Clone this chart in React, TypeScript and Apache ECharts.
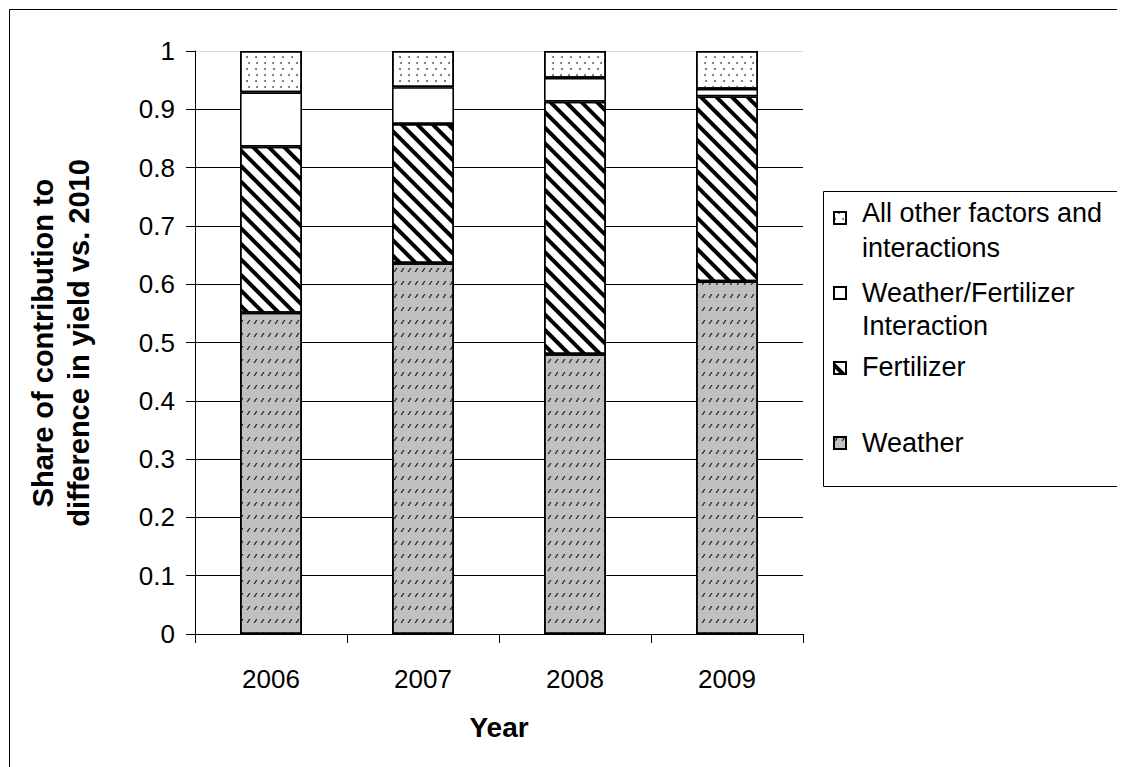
import React, { useEffect, useRef } from 'react';
import * as echarts from 'echarts';

const years = ['2006', '2007', '2008', '2009'];
const weather = [0.551, 0.636, 0.48, 0.605];
const fertilizer = [0.285, 0.239, 0.433, 0.317];
const interaction = [0.093, 0.063, 0.041, 0.013];
const otherFactors = [0.071, 0.062, 0.046, 0.065];

const seriesNames = ['Weather', 'Fertilizer', 'Weather/Fertilizer Interaction', 'All other factors and interactions'];
const legendLines = [
  ['All other factors and', 'interactions'],
  ['Weather/Fertilizer', 'Interaction'],
  ['Fertilizer'],
  ['Weather'],
];
const legendOrder = [3, 2, 1, 0];
const yAxisTitle = ['Share of contribution to', 'difference in yield vs. 2010'];
const xAxisTitle = 'Year';

const FONT = '"Liberation Sans", Arial, Helvetica, sans-serif';

export default function App() {
  const ref = useRef<HTMLDivElement>(null);
  useEffect(() => {
    document.body.style.overflow = 'hidden';
    document.documentElement.style.overflow = 'hidden';
    const chart = echarts.init(ref.current!, null, { renderer: 'svg' });

    const gridColors = ['#000', '#000', '#000', '#000', '#000', '#000', '#000', '#000', '#000', '#000', '#d8d8d8'];

    const decals: any[] = [
      {
        symbol: 'path://M0,10 L3.5,10 L10,0 L6.5,0 Z',
        symbolSize: 1,
        color: '#222',
        dashArrayX: [5, 2],
        dashArrayY: [4, 9],
        rotation: 0,
      },
      {
        symbol: 'rect',
        symbolSize: 1,
        color: '#000',
        dashArrayX: [[1, 0]],
        dashArrayY: [4, 6.5],
        rotation: Math.PI / 4,
      },
      null,
      {
        symbol: 'circle',
        symbolSize: 1,
        color: '#666',
        dashArrayX: [[1.8, 6], [0, 3.9, 1.8, 2.1]],
        dashArrayY: [1.8, 3.8],
        rotation: 0,
      },
    ];
    const fills = ['#c0c0c0', '#ffffff', '#ffffff', '#ffffff'];
    const values = [weather, fertilizer, interaction, otherFactors];

    const series = seriesNames.map((name, i) => {
      const itemStyle: any = { color: fills[i], borderColor: '#000', borderWidth: 1.6 };
      if (decals[i]) itemStyle.decal = decals[i];
      return {
        name,
        type: 'bar',
        stack: 'total',
        barWidth: 62,
        data: values[i],
        itemStyle,
        emphasis: { disabled: true },
      };
    });

    const iconTops = [203, 278, 353, 428];
    const legends = legendOrder.map((si, k) => ({
      data: [seriesNames[si]],
      left: 825,
      top: iconTops[k],
      padding: 0,
      itemWidth: 12,
      itemHeight: 12,
      icon: 'rect',
      selectedMode: false,
      formatter: () => '',
      textStyle: { fontSize: 6 },
    }));

    const lineCenters = [[205, 240], [284.5, 318], [359], [434.5]];
    const legendTexts: any[] = [];
    legendLines.forEach((lines, k) => {
      lines.forEach((t, j) => {
        legendTexts.push({
          type: 'text',
          x: 854,
          y: lineCenters[k][j],
          style: {
            text: t,
            fontSize: 27,
            fontFamily: FONT,
            fill: '#000',
            align: 'left',
            verticalAlign: 'middle',
          },
        });
      });
    });

    chart.setOption({
      animation: false,
      backgroundColor: '#fff',
      grid: { left: 187, top: 43, width: 608, height: 583, containLabel: false },
      legend: legends,
      xAxis: {
        type: 'category',
        data: years,
        axisLine: { show: true, lineStyle: { color: '#000', width: 1 } },
        axisTick: { show: true, length: 9, lineStyle: { color: '#000' } },
        axisLabel: { fontSize: 26, color: '#000', margin: 32, fontFamily: FONT },
        splitLine: { show: false },
      },
      yAxis: {
        type: 'value',
        min: 0,
        max: 1,
        interval: 0.1,
        axisLine: { show: true, lineStyle: { color: '#000', width: 1 } },
        axisTick: { show: true, length: 9, lineStyle: { color: '#000' } },
        axisLabel: { fontSize: 26, color: '#000', margin: 20, fontFamily: FONT },
        splitLine: { show: true, lineStyle: { color: gridColors, width: 1 } },
      },
      series,
      graphic: [
        {
          type: 'polyline',
          shape: { points: [[1.5, 3000], [1.5, 1.5], [3000, 1.5]] },
          style: { fill: 'none', stroke: '#000', lineWidth: 1 },
          silent: true,
        },
        {
          type: 'polyline',
          shape: { points: [[3000, 183.5], [815.5, 183.5], [815.5, 478.5], [3000, 478.5]] },
          style: { fill: 'none', stroke: '#000', lineWidth: 1 },
          silent: true,
        },
        ...legendTexts,
        {
          type: 'text',
          x: 491,
          y: 719,
          style: {
            text: xAxisTitle,
            fontSize: 28,
            fontWeight: 'bold',
            fontFamily: FONT,
            fill: '#000',
            align: 'center',
            verticalAlign: 'middle',
          },
        },
        {
          type: 'text',
          x: 53,
          y: 335,
          rotation: Math.PI / 2,
          style: {
            text: yAxisTitle.join('\n'),
            fontSize: 29,
            lineHeight: 36,
            fontWeight: 'bold',
            fontFamily: FONT,
            fill: '#000',
            align: 'center',
            verticalAlign: 'middle',
          },
        },
      ],
    });
    return () => chart.dispose();
  }, []);
  return <div ref={ref} style={{ width: 1200, height: 820 }} />;
}
